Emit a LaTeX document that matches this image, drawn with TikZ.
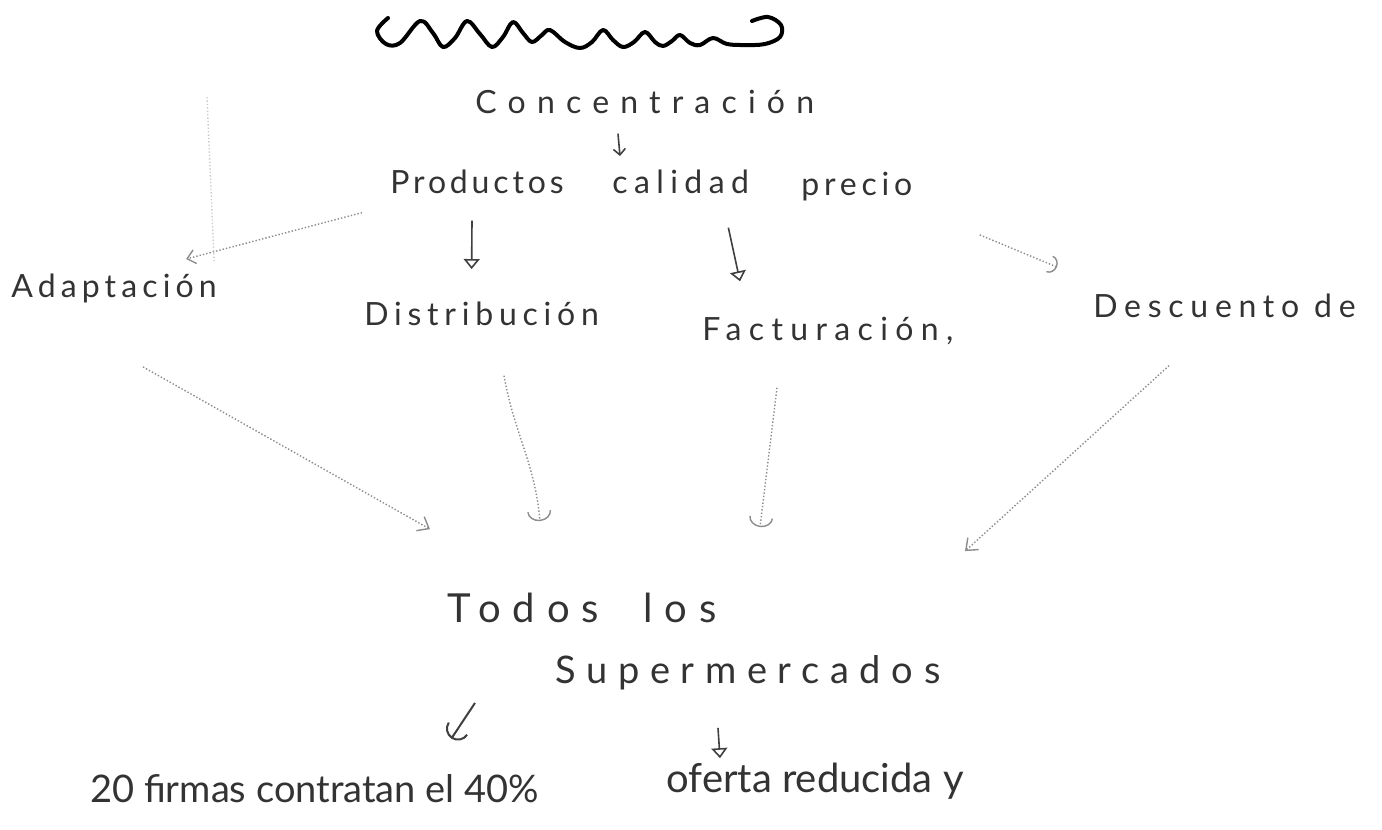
\documentclass[tikz,border=0pt]{standalone}
\usepackage{fontspec}
\setmainfont{Lato}
\usepackage{tikz}
\usetikzlibrary{positioning,calc,arrows.meta}

% handwriting-like text: size and letter spacing
\newcommand{\handtxt}[2]{\fontsize{#1}{#1}\selectfont\addfontfeature{LetterSpace=#2}}

\begin{document}
\begin{tikzpicture}[x=0.5pt,y=-0.5pt,
    word/.style={anchor=base west, inner sep=0pt, text=black!80},
    link/.style={gray!90, densely dotted, line width=0.7pt},
    pen/.style={black!75, line width=0.8pt},
    squig/.style={black, line width=2pt, line cap=round, line join=round},
    ]
    \useasboundingbox (0,0) rectangle (1382,830);
    \fill[white] (0,0) rectangle (1382,830);

    % the wavy mark on top
    \draw[squig] plot[smooth, tension=0.6] coordinates {(388,18) (377,31) (386,44) (400,43)
        (420,21) (433,33) (443,47) (455,38) (467,21) (480,34) (492,47) (503,37) (513,22)
        (523,33) (532,42) (542,35) (550,30) (565,42) (580,48) (592,42) (603,30) (613,40)
        (623,47) (634,42) (645,32) (655,42) (663,46) (672,41) (680,35) (690,43) (700,45)
        (713,38) (727,44) (745,45) (765,44) (780,37) (781,25) (768,17) (752,21)};

    % words
    \node[word, font=\handtxt{16}{35}] (conc) at (475,113) {Concentración};
    \node[word, font=\handtxt{16}{12}] (prod) at (390,193) {Productos};
    \node[word, font=\handtxt{16}{20}] (cal) at (612,193) {calidad};
    \node[word, font=\handtxt{16}{15}] (prec) at (801,195) {precio};
    \node[word, font=\handtxt{16}{16}] (adap) at (11,297) {Adaptación};
    \node[word, font=\handtxt{16}{18}] (dist) at (364,325) {Distribución};
    \node[word, font=\handtxt{16}{23}] (fact) at (702,340) {Facturación,};
    \node[word, font=\handtxt{16}{21}] (desc) at (1093,317) {Descuento de};
    \node[word, font=\handtxt{20}{30}] (todos) at (447,622) {Todos\hspace{22pt}los};
    \node[word, font=\handtxt{19}{28}] (super) at (555,683) {Supermercados};
    \node[word, font=\handtxt{19}{0}] (firmas) at (90,802) {20 firmas contratan el 40\%};
    \node[word, font=\handtxt{20}{0}] (oferta) at (666,792) {oferta reducida y};
    \coordinate (stray) at (207,97);

    % top part
    \draw[pen, -{Straight Barb[length=3pt,width=6pt]}] ($(conc.south west)+(143,20)$) -- ($(cal.north west)+(8,-13)$);
    \draw[link, -{Straight Barb[length=4pt,width=7pt]}] ($(prod.south west)+(-28,19)$) -- ($(adap.north east)+(-31,-14)$);
    \draw[link, gray!40] (stray) -- ($(adap.north east)+(-3,-12)$);
    \draw[pen, -{Triangle[open,length=5pt,width=8pt]}] ($(prod.south)+(-5,27)$) -- ($(dist.north)+(-10,-32)$);
    \draw[pen, -{Triangle[open,length=5pt,width=8pt]}] ($(cal.south east)+(-21,34)$) -- ($(fact.north west)+(38,-35)$);
    \draw[link, -{Arc Barb[length=4pt,width=9pt]}] ($(prec.south east)+(67,34)$) -- ($(desc.north west)+(-36,-26)$);

    % towards the supermarkets
    \draw[link, -{Straight Barb[length=5pt,width=8pt]}] ($(adap.south west)+(132,64)$) -- ($(todos.north west)+(-17,-63)$);
    \draw[link, -{Arc Barb[length=5pt,width=12pt]}] ($(dist.south west)+(140,50)$) to[out=-80,in=95] ($(todos.north west)+(93,-71)$);
    \draw[link, -{Arc Barb[length=5pt,width=12pt]}] ($(fact.south west)+(75,43)$) -- ($(todos.north west)+(313,-65)$);
    \draw[link, -{Straight Barb[length=5pt,width=8pt]}] ($(desc.south west)+(76,48)$) -- ($(todos.north west)+(518,-41)$);

    % bottom part
    \draw[pen, line width=1pt, -{Arc Barb[length=6pt,width=12pt]}] ($(super.south west)+(-80,13)$) -- ($(firmas.north east)+(-88,-35)$);
    \draw[pen, -{Triangle[open,length=5pt,width=8pt]}] ($(super.south west)+(163,38)$) -- ($(oferta.north west)+(54,-4)$);
\end{tikzpicture}
\end{document}
